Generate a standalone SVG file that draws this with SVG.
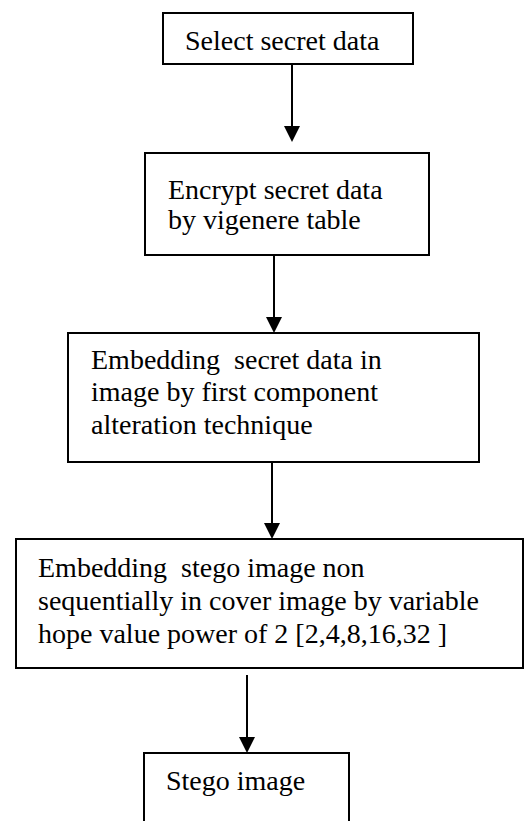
<svg xmlns="http://www.w3.org/2000/svg" width="527" height="821" viewBox="0 0 527 821">
<style>
.box{fill:#fff;stroke:#000;stroke-width:2}
text{font-family:'Liberation Serif','Times New Roman',serif;font-size:28px;fill:#000;white-space:pre}
.c{stroke:#000;stroke-width:2;fill:none}
.ah{fill:#000}
</style>
<rect width="527" height="821" fill="#fff"/>
<g id="connectors">
<line class="c" x1="292" y1="64" x2="292" y2="126"/>
<path class="ah" d="M284,126 L300,126 L292,142 Z"/>
<line class="c" x1="274" y1="256" x2="274" y2="317"/>
<path class="ah" d="M266,317 L282,317 L274,333 Z"/>
<line class="c" x1="272" y1="462" x2="272" y2="523"/>
<path class="ah" d="M264,523 L280,523 L272,539 Z"/>
<line class="c" x1="247" y1="675" x2="247" y2="737"/>
<path class="ah" d="M239,737 L255,737 L247,753 Z"/>
</g>
<g id="n1" font-family="Liberation Serif, serif">
<rect class="box" x="163" y="13" width="250" height="51"/>
<text x="185" y="50">Select secret data</text>
</g>
<g id="n2" font-family="Liberation Serif, serif">
<rect class="box" x="145" y="153" width="284" height="102"/>
<text x="168" y="199">Encrypt secret data</text>
<text x="168" y="229">by vigenere table</text>
</g>
<g id="n3" font-family="Liberation Serif, serif">
<rect class="box" x="68" y="333" width="411" height="129"/>
<text x="91" y="369" xml:space="preserve">Embedding  secret data in</text>
<text x="91" y="401">image by first component</text>
<text x="91" y="434">alteration technique</text>
</g>
<g id="n4" font-family="Liberation Serif, serif">
<rect class="box" x="16" y="539" width="507" height="129"/>
<text x="38" y="577" xml:space="preserve">Embedding  stego image non</text>
<text x="38" y="610">sequentially in cover image by variable</text>
<text x="38" y="643">hope value power of 2 [2,4,8,16,32 ]</text>
</g>
<g id="n5" font-family="Liberation Serif, serif">
<rect class="box" x="144" y="753" width="205" height="80"/>
<text x="166" y="790">Stego image</text>
</g>
</svg>
